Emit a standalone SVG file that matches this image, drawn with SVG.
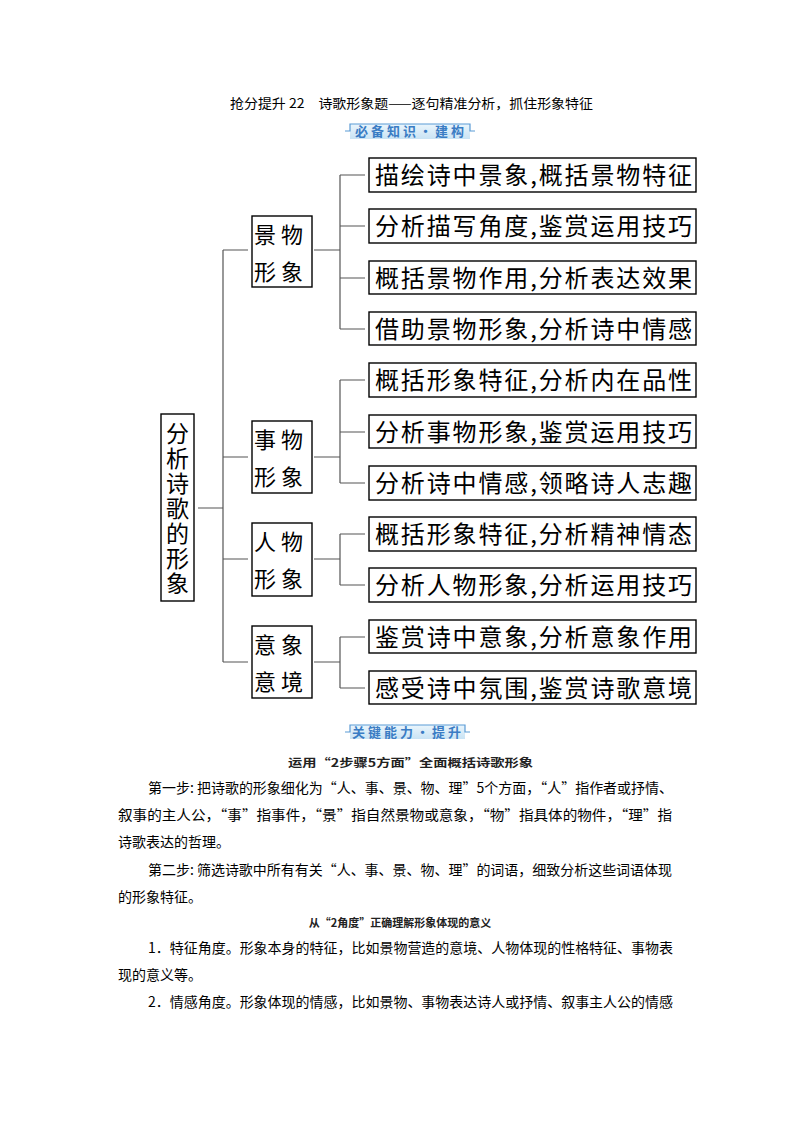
<svg xmlns="http://www.w3.org/2000/svg" width="794" height="1123" viewBox="0 0 794 1123">
<defs>
<linearGradient id="bn" x1="0" y1="0" x2="0" y2="1">
<stop offset="0" stop-color="#eaf5fc"/>
<stop offset="1" stop-color="#c9e3f4"/>
</linearGradient>
</defs>
<style>
.cjk{font-family:"Noto Sans CJK SC","Noto Sans",sans-serif;fill:#000}
.box{fill:#fff;stroke:#000;stroke-width:1.4}
.con{fill:none;stroke:#555;stroke-width:1.2}
.leaf{font-size:24px}
.mid{font-size:22px;text-anchor:middle}
.root{font-size:23px;writing-mode:vertical-rl;letter-spacing:2px}
.body{font-size:14px}
.small{font-size:11px;font-weight:bold;fill:#222}
.bantxt{font-size:13px;font-weight:bold;fill:#3a7cc4;text-anchor:middle;letter-spacing:3px}
.banline{fill:none;stroke:#5b9bd5;stroke-width:1.2}
</style>
<rect width="794" height="1123" fill="#fff"/>

<text class="cjk" x="230" y="108" font-size="13" textLength="363" lengthAdjust="spacingAndGlyphs">抢分提升 22　诗歌形象题——逐句精准分析，抓住形象特征</text>

<g id="banner1">
<rect x="350" y="124" width="120" height="15" fill="url(#bn)"/>
<path class="banline" d="M345,131 H350 V124 H470 V131 H475"/>
<text class="cjk bantxt" x="411" y="136">必备知识·建构</text>
</g>

<g id="connectors">
<path class="con" d="M198,508 H223 M223,250 V662 M223,250 H248 M223,457 H248 M223,559 H248 M223,662 H248"/>
<path class="con" d="M314,250 H340 M340,175 V329 M340,175 H365 M340,226 H365 M340,278 H365 M340,329 H365"/>
<path class="con" d="M314,457 H340 M340,380 V483 M340,380 H365 M340,432 H365 M340,483 H365"/>
<path class="con" d="M314,559 H340 M340,534 V585 M340,534 H365 M340,585 H365"/>
<path class="con" d="M314,662 H340 M340,637 V688 M340,637 H365 M340,688 H365"/>
</g>

<g id="root">
<rect class="box" x="161" y="414" width="33" height="187"/>
<text class="cjk root" x="177.5" y="422">分析诗歌的形象</text>
</g>

<g id="mid1">
<rect class="box" x="252" y="216" width="60" height="71"/>
<text class="cjk mid" x="281" y="243" letter-spacing="5">景物</text>
<text class="cjk mid" x="281" y="280" letter-spacing="5">形象</text>
</g>
<g id="mid2">
<rect class="box" x="252" y="421" width="60" height="72"/>
<text class="cjk mid" x="281" y="448" letter-spacing="5">事物</text>
<text class="cjk mid" x="281" y="485" letter-spacing="5">形象</text>
</g>
<g id="mid3">
<rect class="box" x="252" y="523" width="60" height="73"/>
<text class="cjk mid" x="281" y="550" letter-spacing="5">人物</text>
<text class="cjk mid" x="281" y="587" letter-spacing="5">形象</text>
</g>
<g id="mid4">
<rect class="box" x="252" y="626" width="60" height="72"/>
<text class="cjk mid" x="281" y="653" letter-spacing="5">意象</text>
<text class="cjk mid" x="281" y="690" letter-spacing="5">意境</text>
</g>

<g id="leaf1"><rect class="box" x="369" y="158" width="327" height="34"/><text class="cjk leaf" x="375" y="184" textLength="317" lengthAdjust="spacing">描绘诗中景象,概括景物特征</text></g>
<g id="leaf2"><rect class="box" x="369" y="209" width="327" height="34"/><text class="cjk leaf" x="375" y="235" textLength="317" lengthAdjust="spacing">分析描写角度,鉴赏运用技巧</text></g>
<g id="leaf3"><rect class="box" x="369" y="261" width="327" height="33"/><text class="cjk leaf" x="375" y="286.5" textLength="317" lengthAdjust="spacing">概括景物作用,分析表达效果</text></g>
<g id="leaf4"><rect class="box" x="369" y="312" width="327" height="33"/><text class="cjk leaf" x="375" y="337.5" textLength="317" lengthAdjust="spacing">借助景物形象,分析诗中情感</text></g>
<g id="leaf5"><rect class="box" x="369" y="363" width="327" height="34"/><text class="cjk leaf" x="375" y="389" textLength="317" lengthAdjust="spacing">概括形象特征,分析内在品性</text></g>
<g id="leaf6"><rect class="box" x="369" y="415" width="327" height="33"/><text class="cjk leaf" x="375" y="440.5" textLength="317" lengthAdjust="spacing">分析事物形象,鉴赏运用技巧</text></g>
<g id="leaf7"><rect class="box" x="369" y="466" width="327" height="34"/><text class="cjk leaf" x="375" y="492" textLength="317" lengthAdjust="spacing">分析诗中情感,领略诗人志趣</text></g>
<g id="leaf8"><rect class="box" x="369" y="517" width="327" height="34"/><text class="cjk leaf" x="375" y="543" textLength="317" lengthAdjust="spacing">概括形象特征,分析精神情态</text></g>
<g id="leaf9"><rect class="box" x="369" y="568" width="327" height="34"/><text class="cjk leaf" x="375" y="594" textLength="317" lengthAdjust="spacing">分析人物形象,分析运用技巧</text></g>
<g id="leaf10"><rect class="box" x="369" y="620" width="327" height="33"/><text class="cjk leaf" x="375" y="645.5" textLength="317" lengthAdjust="spacing">鉴赏诗中意象,分析意象作用</text></g>
<g id="leaf11"><rect class="box" x="369" y="671" width="327" height="33"/><text class="cjk leaf" x="375" y="696.5" textLength="317" lengthAdjust="spacing">感受诗中氛围,鉴赏诗歌意境</text></g>

<g id="banner2">
<rect x="350" y="725" width="115" height="14" fill="url(#bn)"/>
<path class="banline" d="M345,732 H350 V725 H465 V732 H470"/>
<text class="cjk bantxt" x="408" y="737">关键能力·提升</text>
</g>

<g id="bodytext">
<text class="cjk small" x="288" y="767" textLength="245" lengthAdjust="spacingAndGlyphs">运用“2步骤5方面”全面概括诗歌形象</text>
<text class="cjk body" x="148" y="793" textLength="525" lengthAdjust="spacingAndGlyphs">第一步: 把诗歌的形象细化为“人、事、景、物、理”5个方面，“人”指作者或抒情、</text>
<text class="cjk body" x="118" y="820" textLength="554" lengthAdjust="spacingAndGlyphs">叙事的主人公，“事”指事件，“景”指自然景物或意象，“物”指具体的物件，“理”指</text>
<text class="cjk body" x="118" y="847">诗歌表达的哲理。</text>
<text class="cjk body" x="148" y="875" textLength="524" lengthAdjust="spacingAndGlyphs">第二步: 筛选诗歌中所有有关“人、事、景、物、理”的词语，细致分析这些词语体现</text>
<text class="cjk body" x="118" y="902">的形象特征。</text>
<text class="cjk small" x="400" y="927" text-anchor="middle">从“2角度”正确理解形象体现的意义</text>
<text class="cjk body" x="148" y="953" textLength="525" lengthAdjust="spacingAndGlyphs">1．特征角度。形象本身的特征，比如景物营造的意境、人物体现的性格特征、事物表</text>
<text class="cjk body" x="118" y="980">现的意义等。</text>
<text class="cjk body" x="148" y="1007" textLength="525" lengthAdjust="spacingAndGlyphs">2．情感角度。形象体现的情感，比如景物、事物表达诗人或抒情、叙事主人公的情感</text>
</g>
</svg>
